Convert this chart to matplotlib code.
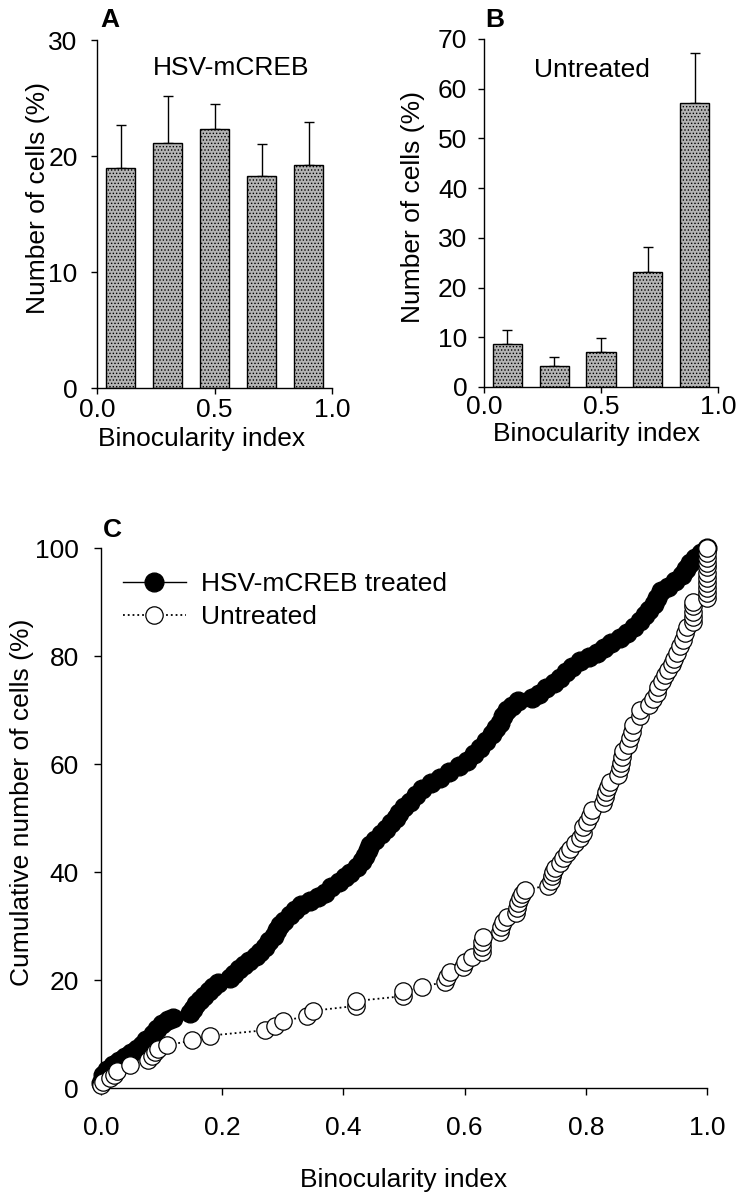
import numpy as np
import matplotlib
matplotlib.use("Agg")
import matplotlib.pyplot as plt

plt.rcParams['font.family'] = ['Liberation Sans', 'DejaVu Sans']
plt.rcParams['hatch.linewidth'] = 0.6
plt.rcParams['hatch.color'] = '#6a6a6a'

# -----------------------------
# Data
# -----------------------------
bin_centers = [0.1, 0.3, 0.5, 0.7, 0.9]

mcreb_pct = [19.0, 21.1, 22.3, 18.3, 19.2]
mcreb_sem = [3.7, 4.1, 2.2, 2.7, 3.7]

untreated_pct = [8.6, 4.2, 7.1, 23.1, 57.1]
untreated_sem = [2.9, 1.8, 2.7, 5.1, 10.1]

# cumulative distribution, HSV-mCREB treated
treated_bi = [0.000, 0.003, 0.010, 0.020, 0.030, 0.040, 0.050, 0.060, 0.068, 0.075,
              0.085, 0.092, 0.100, 0.110, 0.118, 0.147, 0.152, 0.157, 0.163, 0.170,
              0.178, 0.185, 0.193, 0.213, 0.220, 0.228, 0.236, 0.245, 0.255, 0.262,
              0.270, 0.277, 0.285, 0.290, 0.296, 0.302, 0.312, 0.320, 0.330, 0.345,
              0.358, 0.370, 0.380, 0.392, 0.402, 0.411, 0.422, 0.430, 0.436, 0.440,
              0.444, 0.452, 0.462, 0.470, 0.478, 0.486, 0.492, 0.500, 0.510, 0.520,
              0.530, 0.545, 0.560, 0.575, 0.590, 0.604, 0.615, 0.626, 0.636, 0.645,
              0.652, 0.658, 0.664, 0.670, 0.678, 0.688, 0.712, 0.722, 0.735, 0.748,
              0.758, 0.768, 0.778, 0.790, 0.805, 0.818, 0.830, 0.842, 0.856, 0.868,
              0.880, 0.890, 0.898, 0.905, 0.912, 0.918, 0.924, 0.935, 0.948, 0.958,
              0.965, 0.972, 0.980, 0.990, 1.000]
treated_cum = [1.0, 2.5, 3.3, 4.2, 5.0, 5.8, 6.5, 7.3, 8.0, 8.8,
               10.0, 11.0, 11.8, 12.6, 13.0, 13.9, 14.6, 15.5, 16.3, 17.1,
               17.9, 18.7, 19.4, 20.3, 21.1, 22.0, 22.8, 23.6, 24.4, 25.2,
               26.2, 27.2, 28.2, 29.2, 30.2, 31.0, 32.0, 33.0, 33.8, 34.6,
               35.4, 36.2, 37.2, 38.2, 39.1, 39.9, 41.0, 42.0, 43.0, 44.0,
               45.0, 46.0, 47.0, 48.0, 49.0, 50.0, 51.0, 52.0, 53.0, 54.2,
               55.4, 56.4, 57.5, 58.5, 59.6, 60.6, 61.8, 63.0, 64.2, 65.5,
               66.6, 67.6, 68.8, 70.0, 70.8, 71.6, 72.2, 73.0, 74.0, 75.0,
               76.0, 77.0, 78.0, 79.0, 79.8, 80.6, 81.5, 82.4, 83.4, 84.3,
               85.3, 86.5, 87.6, 88.6, 89.6, 90.8, 92.0, 92.8, 93.8, 95.0,
               96.2, 97.2, 98.2, 99.0, 100.0]

# cumulative distribution, untreated
untreated_bi = [0.000, 0.003, 0.015, 0.022, 0.026, 0.048, 0.078, 0.084, 0.089, 0.094,
                0.109, 0.150, 0.180, 0.270, 0.287, 0.300, 0.340, 0.350, 0.420, 0.420,
                0.498, 0.498, 0.530, 0.568, 0.571, 0.576, 0.597, 0.600, 0.612, 0.629,
                0.629, 0.629, 0.631, 0.658, 0.660, 0.663, 0.670, 0.684, 0.686, 0.688,
                0.691, 0.695, 0.700, 0.738, 0.742, 0.744, 0.746, 0.749, 0.757, 0.762,
                0.769, 0.774, 0.782, 0.790, 0.795, 0.795, 0.802, 0.807, 0.810, 0.828,
                0.832, 0.834, 0.837, 0.840, 0.853, 0.856, 0.858, 0.860, 0.861, 0.870,
                0.873, 0.876, 0.878, 0.889, 0.889, 0.905, 0.911, 0.917, 0.919, 0.925,
                0.930, 0.936, 0.942, 0.946, 0.950, 0.955, 0.960, 0.964, 0.967, 0.977,
                0.977, 0.977, 0.977, 0.977, 1.000, 1.000, 1.000, 1.000, 1.000, 1.000,
                1.000, 1.000, 1.000, 1.000, 1.000]
untreated_cum = [0.6, 1.2, 1.9, 2.5, 3.2, 4.3, 5.2, 5.9, 6.6, 7.2,
                 7.9, 8.8, 9.7, 10.7, 11.5, 12.4, 13.3, 14.3, 15.2, 16.1,
                 17.0, 17.9, 18.7, 19.7, 20.6, 21.5, 22.4, 23.3, 24.3, 25.2,
                 26.1, 27.0, 28.0, 28.9, 29.8, 30.7, 31.6, 32.4, 33.3, 34.2,
                 35.1, 35.9, 36.7, 37.5, 38.4, 39.2, 40.0, 40.8, 41.7, 42.6,
                 43.5, 44.3, 45.3, 46.3, 47.3, 48.3, 49.3, 50.4, 51.5, 52.7,
                 53.8, 54.8, 55.7, 56.7, 58.0, 59.2, 60.2, 61.3, 62.4, 63.6,
                 64.8, 66.0, 67.2, 68.8, 70.0, 71.0, 72.0, 73.1, 74.3, 75.4,
                 76.5, 77.5, 78.5, 79.5, 80.6, 81.8, 83.0, 84.2, 85.3, 86.3,
                 87.3, 88.2, 89.2, 90.0, 90.8, 91.7, 92.6, 93.6, 94.5, 95.4,
                 96.4, 97.3, 98.2, 99.1, 100.0]

# -----------------------------
# Layout helpers (pixels -> figure coords)
# -----------------------------
W, H = 740, 1199
FS = 19

fig = plt.figure(figsize=(W / 100, H / 100), dpi=100)


def rect(left, right, top, bottom):
    return [left / W, 1 - bottom / H, (right - left) / W, (bottom - top) / H]


def ftext(x, y, s, **kw):
    fig.text(x / W, 1 - y / H, s, ha='center', va='center', fontsize=FS, **kw)


def style_axes(ax, ypad, xpad, ticklen):
    for side in ['top', 'right']:
        ax.spines[side].set_visible(False)
    for side in ['left', 'bottom']:
        ax.spines[side].set_linewidth(1.0)
    ax.tick_params(axis='y', direction='out', length=ticklen, width=1.0,
                   labelsize=FS, pad=ypad)
    ax.tick_params(axis='x', direction='out', length=ticklen, width=1.0,
                   labelsize=FS, pad=xpad)


def bar_panel(ax, vals, sems, ymax, yticks, ypad, xpad):
    ax.bar(bin_centers, vals, width=0.125, color='#b4b4b4', edgecolor='black',
           linewidth=1.0, hatch='.....', zorder=2)
    ax.errorbar(bin_centers, vals, yerr=[np.zeros(len(sems)), sems], fmt='none',
                ecolor='black', elinewidth=1.0, capsize=3.6, capthick=1.0, zorder=1)
    ax.set_xlim(0, 1.0)
    ax.set_ylim(0, ymax)
    ax.set_xticks([0, 0.5, 1.0])
    ax.set_xticklabels(['0.0', '0.5', '1.0'])
    ax.set_yticks(yticks)
    style_axes(ax, ypad, xpad, 4)


# -----------------------------
# Panel A
# -----------------------------
axA = fig.add_axes(rect(97, 332, 40, 388))
bar_panel(axA, mcreb_pct, mcreb_sem, 30, [0, 10, 20, 30], 10, 3)
ftext(231, 68, 'HSV-mCREB')
ftext(110, 20, 'A', fontweight='bold')
ftext(38, 198, 'Number of cells (%)', rotation=90)
ftext(202, 439, 'Binocularity index')

# -----------------------------
# Panel B
# -----------------------------
axB = fig.add_axes(rect(484, 718, 39, 387))
bar_panel(axB, untreated_pct, untreated_sem, 70, list(range(0, 71, 10)), 8, 2)
ftext(592, 70, 'Untreated')
ftext(495, 20, 'B', fontweight='bold')
ftext(413, 207, 'Number of cells (%)', rotation=90)
ftext(597, 434, 'Binocularity index')

# -----------------------------
# Panel C
# -----------------------------
axC = fig.add_axes(rect(101, 707, 548, 1088))
axC.plot(treated_bi, treated_cum, '-', color='black', lw=1.0, marker='o',
         ms=13.5, mfc='black', mec='black', clip_on=False, zorder=3,
         label='HSV-mCREB treated')
axC.plot(untreated_bi, untreated_cum, ':', color='black', lw=1.3, marker='o',
         ms=12.5, mfc='white', mec='black', mew=0.9, clip_on=False, zorder=4,
         label='Untreated')
axC.set_xlim(0, 1.0)
axC.set_ylim(0, 100)
axC.set_xticks([0, 0.2, 0.4, 0.6, 0.8, 1.0])
axC.set_xticklabels(['0.0', '0.2', '0.4', '0.6', '0.8', '1.0'])
axC.set_yticks([0, 20, 40, 60, 80, 100])
style_axes(axC, 11, 15, 5)
axC.legend(loc='upper left', bbox_to_anchor=(0.036, 0.956), frameon=False,
           fontsize=FS, handlelength=2.4, handletextpad=0.55, labelspacing=0.36,
           borderpad=0, borderaxespad=0)
ftext(112, 530, 'C', fontweight='bold')
ftext(22, 802, 'Cumulative number of cells (%)', rotation=90)
ftext(404, 1180, 'Binocularity index')

fig.savefig('out.png', dpi=100)
